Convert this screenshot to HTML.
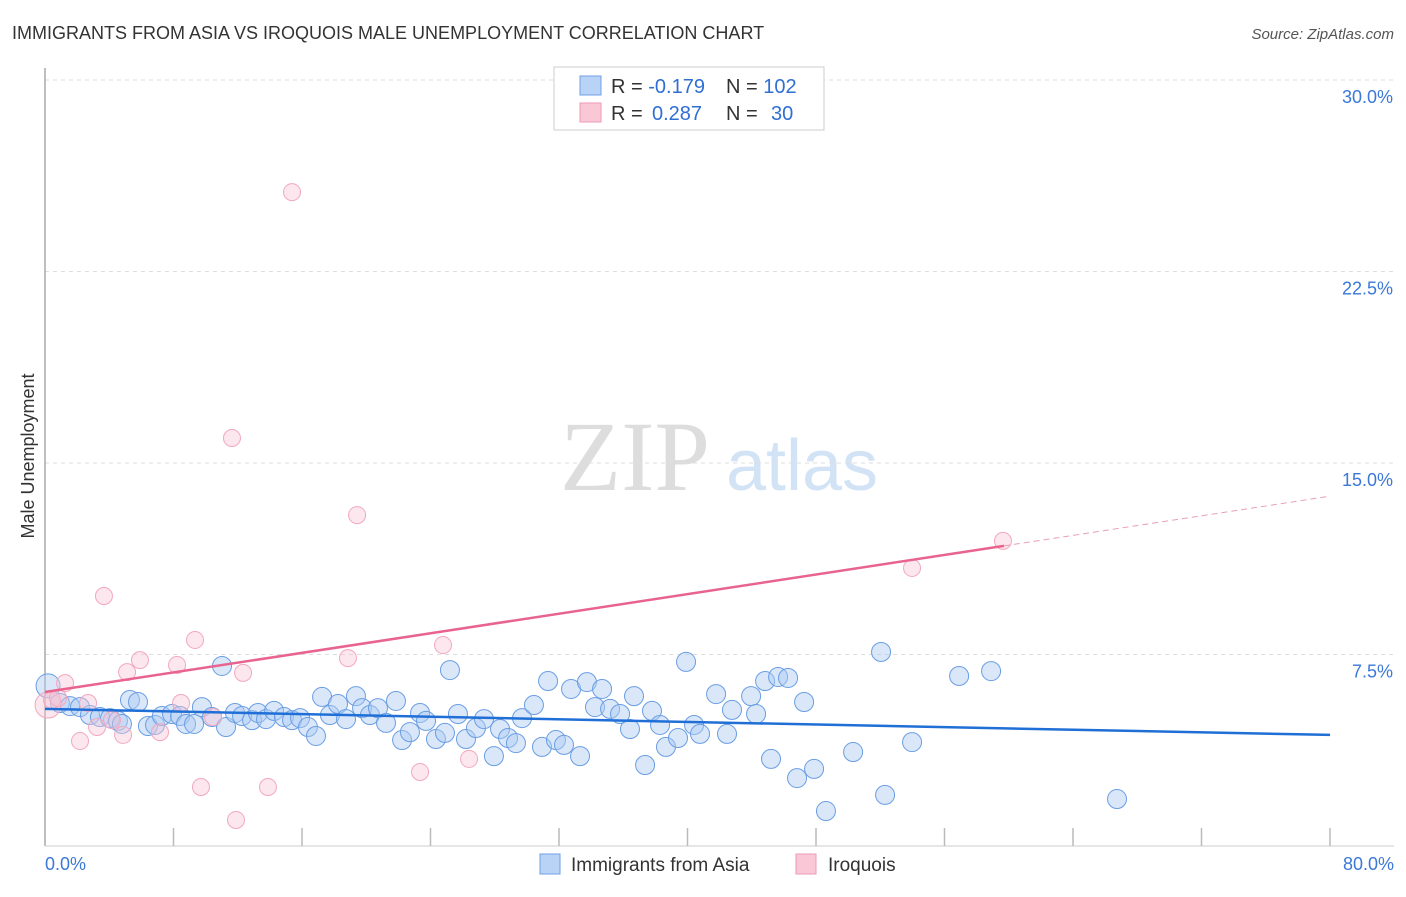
<!DOCTYPE html>
<html><head><meta charset="utf-8"><style>
body{margin:0;background:#fff;font-family:"Liberation Sans",sans-serif;}
svg text{font-family:"Liberation Sans",sans-serif;}
svg text.serif{font-family:"Liberation Serif",serif;}
</style></head><body>
<svg id="chart" width="1406" height="892" viewBox="0 0 1406 892" xmlns="http://www.w3.org/2000/svg">
<text x="12" y="39" font-size="18" fill="#333">IMMIGRANTS FROM ASIA VS IROQUOIS MALE UNEMPLOYMENT CORRELATION CHART</text>
<text x="1394" y="39" font-size="15" fill="#555" font-style="italic" text-anchor="end">Source: ZipAtlas.com</text>
<text x="34" y="456" font-size="18" fill="#333" text-anchor="middle" transform="rotate(-90 34 456)">Male Unemployment</text>
<g><text class="serif" x="635" y="490" font-size="100" fill="#ddd" text-anchor="middle">ZIP</text><text x="802" y="490" font-size="72" fill="#d3e3f6" text-anchor="middle">atlas</text></g>
<g id="grid"></g><g id="marks"></g>
<g>
<rect x="554" y="67" width="270" height="63" fill="#fff" stroke="#ccc"/>
<rect x="580" y="76" width="21" height="19" fill="#b8d3f5" stroke="#6fa0e6"/>
<rect x="580" y="103" width="21" height="19" fill="#f9c7d6" stroke="#ee9ab4"/>
<text x="611" y="93" font-size="20" fill="#333">R = <tspan fill="#2f6fd4">-0.179</tspan><tspan x="726">N = </tspan><tspan fill="#2f6fd4">102</tspan></text>
<text x="611" y="120" font-size="20" fill="#333">R = <tspan fill="#2f6fd4" x="652">0.287</tspan><tspan x="726">N = </tspan><tspan fill="#2f6fd4" x="771">30</tspan></text>
</g>
<g>
<rect x="540" y="854" width="20" height="20" fill="#b8d3f5" stroke="#6fa0e6"/>
<text x="571" y="871" font-size="19" fill="#333">Immigrants from Asia</text>
<rect x="796" y="854" width="20" height="20" fill="#f9c7d6" stroke="#ee9ab4"/>
<text x="828" y="871" font-size="19" fill="#333">Iroquois</text>
</g>
</svg>
<script>
const yTicks=[7.5,15,22.5,30];
const yTickLabels=["7.5%","15.0%","22.5%","30.0%"];
const xTickLabels=["0.0%","80.0%"];
const asiaX=[0.19,0.93,1.56,2.18,2.80,3.42,4.05,4.54,4.79,5.29,5.79,6.41,6.85,7.28,7.91,8.41,8.78,9.28,9.77,10.40,11.02,11.27,11.83,12.27,12.89,13.26,13.76,14.26,14.88,15.38,15.88,16.37,16.87,17.25,17.74,18.24,18.74,19.36,19.74,20.23,20.73,21.23,21.85,22.23,22.72,23.35,23.72,24.34,24.90,25.21,25.71,26.21,26.83,27.33,27.95,28.33,28.83,29.32,29.70,30.44,30.94,31.32,31.81,32.31,32.75,33.31,33.74,34.24,34.68,35.18,35.80,36.42,36.67,37.36,37.79,38.29,38.66,39.41,39.91,40.41,40.78,41.78,42.46,42.77,43.96,44.27,44.83,45.20,45.64,46.26,46.82,47.26,47.88,48.62,50.31,52.05,52.30,53.98,56.91,58.90,66.74];
const asiaY=[6.27,5.60,5.48,5.44,5.13,5.05,5.01,4.90,4.78,5.72,5.64,4.70,4.74,5.09,5.17,5.09,4.78,4.78,5.44,5.05,7.05,4.66,5.21,5.09,4.93,5.21,4.97,5.29,5.05,4.93,5.01,4.66,4.31,5.84,5.13,5.56,4.97,5.87,5.40,5.13,5.40,4.82,5.68,4.15,4.46,5.21,4.90,4.19,4.43,6.89,5.17,4.19,4.62,4.97,3.52,4.58,4.23,4.03,5.01,5.52,3.88,6.46,4.15,3.96,6.15,3.52,6.42,5.44,6.15,5.37,5.17,4.58,5.87,3.17,5.29,4.74,3.88,4.23,7.21,4.74,4.39,5.95,4.39,5.33,5.87,5.17,6.46,3.41,6.62,6.58,2.66,5.64,3.02,1.37,3.68,7.60,2.00,4.07,6.66,6.85,1.84];
const iroqX=[0.19,0.44,0.81,1.25,2.18,2.68,3.24,3.67,4.17,4.86,5.11,5.91,7.16,8.22,8.47,9.34,9.71,10.46,11.64,11.89,12.33,13.88,15.38,18.86,19.43,23.35,24.78,26.40,53.98,59.64];
const iroqY=[5.52,5.72,5.80,6.38,4.11,5.60,4.66,9.79,4.93,4.35,6.81,7.28,4.46,7.09,5.60,8.07,2.31,5.05,15.98,1.02,6.78,2.31,25.61,7.36,12.96,2.90,7.87,3.41,10.89,11.95];
const asiaTrend=[5.37,4.35];
const iroqTrend=[6.03,13.7];
const iroqSolidEnd=59.7;
const NS="http://www.w3.org/2000/svg";
const X=v=>45+v/80*1285, Y=v=>846-v/30*766;
function mk(t,a,p){const e=document.createElementNS(NS,t);for(const k in a)e.setAttribute(k,a[k]);p.appendChild(e);return e;}
const g=document.getElementById('grid'), m=document.getElementById('marks');
yTicks.forEach((t,i)=>{
 const l=mk('line',{x1:45,x2:1394,y1:Y(t),y2:Y(t),stroke:'#ddd','stroke-dasharray':'4 4'},g);
 
 
 const tx=mk('text',{x:1393,y:Y(t)+23,'font-size':18,fill:'#3b78d8','text-anchor':'end'},g);
 tx.textContent=yTickLabels[i];
 
 
});
const ax=mk('line',{x1:45,x2:45,y1:68,y2:846,stroke:'#aaa','stroke-width':1.5},g);


const bx=mk('line',{x1:45,x2:1394,y1:846,y2:846,stroke:'#ccc'},g);


for(let i=1;i<=10;i++){const xv=i*8,tk=mk('line',{x1:X(xv),x2:X(xv),y1:828,y2:846,stroke:'#bbb','stroke-width':1.5},g);
 
 }
[[0,'start',45],[80,'end',1394]].forEach((d,i)=>{const t=mk('text',{x:d[2],y:870,'font-size':18,fill:'#3b78d8','text-anchor':d[1]},g);t.textContent=xTickLabels[i];
 
 });
asiaX.forEach((x,i)=>{const c=mk('circle',{cx:X(x),cy:Y(asiaY[i]),r:i==0?12:9.5,fill:'rgba(170,202,242,0.45)',stroke:'#6a9ee4','stroke-width':1},m);
 
 });
iroqX.forEach((x,i)=>{const c=mk('circle',{cx:X(x),cy:Y(iroqY[i]),r:i==0?13:8.5,fill:'rgba(248,196,212,0.4)',stroke:'#f2a8be','stroke-width':1},m);
 
 });
const it=x=>iroqTrend[0]+(iroqTrend[1]-iroqTrend[0])*x/80;
const l1=mk('line',{x1:X(0),y1:Y(asiaTrend[0]),x2:X(80),y2:Y(asiaTrend[1]),stroke:'#1f6fd6','stroke-width':2.5},m);


const l2=mk('line',{x1:X(0),y1:Y(it(0)),x2:X(iroqSolidEnd),y2:Y(it(iroqSolidEnd)),stroke:'#e8638e','stroke-width':2.5},m);


const l3=mk('line',{x1:X(iroqSolidEnd),y1:Y(it(iroqSolidEnd)),x2:X(80),y2:Y(it(80)),stroke:'#e8a0b5','stroke-width':1,'stroke-dasharray':'6 4'},m);


</script>
</body></html>
